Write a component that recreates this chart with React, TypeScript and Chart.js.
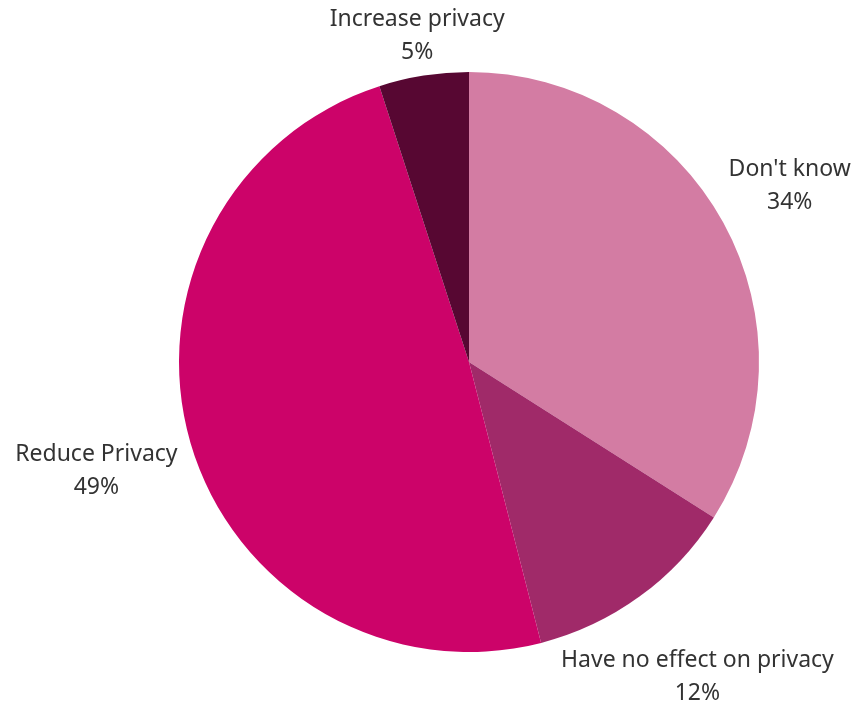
import React, { useEffect, useRef } from "react";
import { Chart, registerables } from "chart.js";

Chart.register(...registerables);

const categories: string[] = ["Don't know", "Have no effect on privacy", "Reduce Privacy", "Increase privacy"];
const values: number[] = [34, 12, 49, 5];
const colors: string[] = ["#D37CA3", "#A02A69", "#CC0369", "#570732"];
const labelDistance: number[] = [1.262, 1.34, 1.338, 1.141];

const labelPlugin = {
  id: "outerLabels",
  afterDatasetsDraw(chart: any) {
    const ctx = chart.ctx;
    const meta = chart.getDatasetMeta(0);
    ctx.save();
    ctx.font = "23px 'Noto Sans', sans-serif";
    ctx.fillStyle = "#333333";
    ctx.textAlign = "center";
    ctx.textBaseline = "middle";
    meta.data.forEach((arc: any, i: number) => {
      const p = arc.getProps(["x", "y", "startAngle", "endAngle", "outerRadius"], true);
      const mid = (p.startAngle + p.endAngle) / 2;
      const r = p.outerRadius * labelDistance[i];
      const cx = p.x + Math.cos(mid) * r;
      const cy = p.y + Math.sin(mid) * r;
      ctx.fillText(categories[i], cx, cy - 16);
      ctx.fillText(values[i] + "%", cx, cy + 17);
    });
    ctx.restore();
  },
};

export default function App() {
  const ref = useRef<HTMLCanvasElement | null>(null);
  useEffect(() => {
    if (!ref.current) return;
    const chart = new Chart(ref.current, {
      type: "pie",
      data: {
        labels: categories,
        datasets: [
          {
            data: values,
            backgroundColor: colors,
            borderWidth: 0,
          },
        ],
      },
      options: {
        responsive: false,
        animation: false,
        layout: { padding: { top: 72, bottom: 52, left: 179, right: 95 } },
        plugins: {
          legend: { display: false },
          tooltip: { enabled: false },
        },
      },
      plugins: [labelPlugin],
    });
    return () => chart.destroy();
  }, []);
  return (
    <div style={{ position: "fixed", left: 0, top: 0, width: 854, height: 704, background: "#fff" }}>
      <canvas ref={ref} width={854} height={704} style={{ width: 854, height: 704 }} />
    </div>
  );
}
